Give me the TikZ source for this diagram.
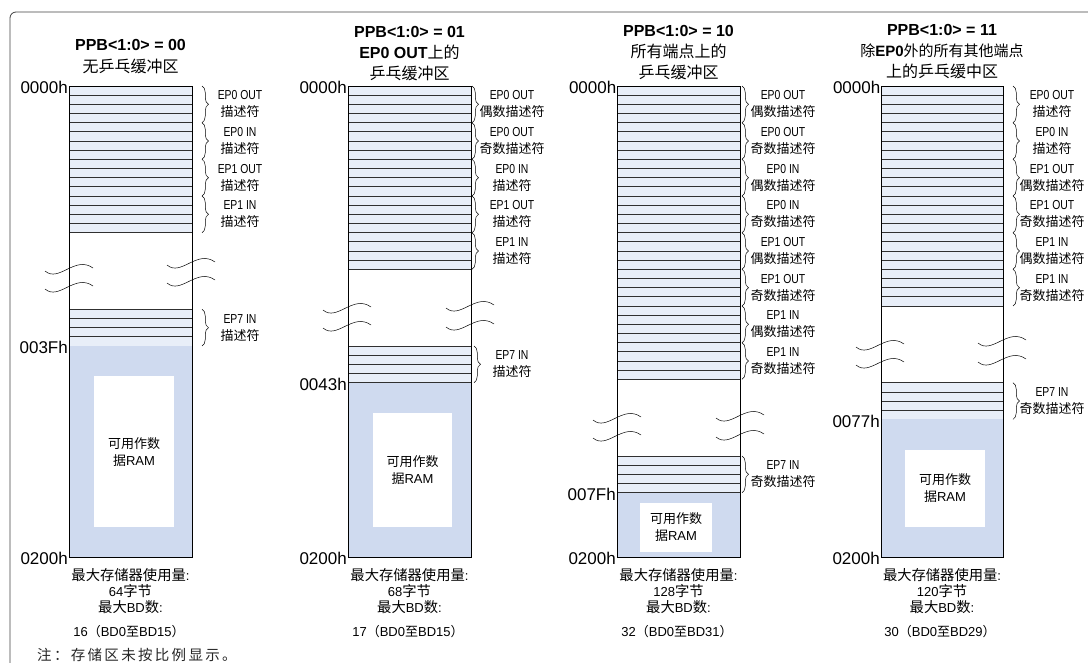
\documentclass[tikz,border=0pt]{standalone}
\usepackage{fontspec}
\setmainfont{Liberation Sans}
\newfontfamily\cjk{Noto Sans CJK SC}
\newfontfamily\cjkb{Noto Sans CJK SC}[Scale=1.1]
\newfontfamily\cjknote{Noto Sans CJK SC}[LetterSpace=16]
\newfontfamily\lnarrow{Liberation Sans}[FakeStretch=0.8]
\usetikzlibrary{decorations.pathreplacing}
\newcommand\zb[1]{{\cjkb #1}}
\newcommand\zhh[1]{{\cjk #1}}
\definecolor{rowc}{HTML}{E8EEF8}
\definecolor{rowl}{HTML}{303030}
\definecolor{ramc}{HTML}{CFDAEF}
\def\rh{9.1667}
\tikzset{
  rowfill/.style={fill=rowc},
  rowline/.style={draw=rowl, line width=0.7pt},
  ramfill/.style={fill=ramc},
  colframe/.style={draw=black, line width=0.8pt},
  brc/.style={draw=black, line width=0.5pt, decorate, decoration={brace, amplitude=6.5pt}},
  lbl/.style={align=center, inner sep=0pt, font=\lnarrow\fontsize{13}{17}\selectfont},
  ramtxt/.style={align=center, inner sep=0pt, font=\fontsize{13}{17}\selectfont},
  addr/.style={anchor=east, inner sep=0pt, font=\fontsize{17}{17}\selectfont},
  hdr/.style={align=center, inner sep=0pt, font=\fontsize{16}{21}\selectfont},
  btm/.style={align=center, inner sep=0pt, font=\fontsize{13}{16}\selectfont},
  btmn/.style={align=center, inner sep=0pt, font=\fontsize{13}{16}\selectfont},
  squigline/.style={draw=black, line width=0.5pt},
  frame/.style={draw=black!75, line width=0.8pt, rounded corners=6pt},
}
% L R nrows S
\newcommand\memcol[4]{%
  \fill[rowfill] (#1,86) rectangle (#2,86+#3*\rh);
  \foreach \k in {1,...,#3} \draw[rowline] (#1,86+\k*\rh) -- (#2,86+\k*\rh);
  \fill[rowfill] (#1,#4) rectangle (#2,#4+4*\rh);
  \foreach \k in {0,...,4} \draw[rowline] (#1,#4+\k*\rh) -- (#2,#4+\k*\rh);
  \fill[ramfill] (#1,#4+4*\rh) rectangle (#2,557);
}
\newcommand\squig[2]{\draw[squigline] (#1,#2) .. controls (#1+14,#2+12) and (#1+30,#2-16) .. (#1+48,#2-3);}
\begin{document}
\begin{tikzpicture}[x=1pt,y=-1pt]
\useasboundingbox (0,0) rectangle (1088,662);
\begin{scope}
  \clip (0,0) rectangle (1088,662);
  \draw[frame] (10,12) rectangle (1150,720);
\end{scope}

% ---------- columns ----------
\memcol{69}{192}{16}{309.3}
\memcol{348}{471}{20}{346}
\memcol{617}{740}{32}{456}
\memcol{881}{1003}{24}{382.7}

% white RAM boxes
\fill[white] (94,376) rectangle (174,527);
\fill[white] (373,413) rectangle (452,527);
\fill[white] (640,503) rectangle (712,552);
\fill[white] (905,450) rectangle (985,527);

% squiggles
\squig{45}{271}\squig{45}{289}\squig{167}{265}\squig{167}{283}
\squig{323}{310}\squig{323}{328}\squig{446}{308}\squig{446}{327}
\squig{593}{420}\squig{593}{438}\squig{716}{418}\squig{716}{437}
\squig{856}{347}\squig{856}{365}\squig{978}{343}\squig{978}{362}

% column outlines
\draw[colframe] (69,86) rectangle (192,557);
\draw[colframe] (348,86) rectangle (471,557);
\draw[colframe] (617,86) rectangle (740,557);
\draw[colframe] (881,86) rectangle (1003,557);

% ---------- braces and labels ----------
\foreach \a/\b [count=\k from 0] in {EP0 OUT/描述符,EP0 IN/描述符,EP1 OUT/描述符,EP1 IN/描述符}{
  \draw[brc] (202,{86+4*\k*\rh}) -- (202,{86+4*(\k+1)*\rh});
  \node[lbl] (a1-\k) at (240,{86+(4*\k+2)*\rh}) {\a\\\zhh{\b}};
}
\draw[brc] (202,309.3) -- (202,309.3+4*\rh);
\node[lbl] (a1-7) at (240,309.3+2*\rh) {EP7 IN\\\zhh{描述符}};

\foreach \a/\b [count=\k from 0] in {EP0 OUT/偶数描述符,EP0 OUT/奇数描述符,EP0 IN/描述符,EP1 OUT/描述符,EP1 IN/描述符}{
  \draw[brc] (472,{86+4*\k*\rh}) -- (472,{86+4*(\k+1)*\rh});
  \node[lbl] (a2-\k) at (512,{86+(4*\k+2)*\rh}) {\a\\\zhh{\b}};
}
\draw[brc] (474,346) -- (474,346+4*\rh);
\node[lbl] (a2-7) at (512,346+2*\rh) {EP7 IN\\\zhh{描述符}};

\foreach \a/\b [count=\k from 0] in {EP0 OUT/偶数描述符,EP0 OUT/奇数描述符,EP0 IN/偶数描述符,EP0 IN/奇数描述符,EP1 OUT/偶数描述符,EP1 OUT/奇数描述符,EP1 IN/偶数描述符,EP1 IN/奇数描述符}{
  \draw[brc] (742,{86+4*\k*\rh}) -- (742,{86+4*(\k+1)*\rh});
  \node[lbl] (a3-\k) at (783,{86+(4*\k+2)*\rh}) {\a\\\zhh{\b}};
}
\draw[brc] (742,456) -- (742,456+4*\rh);
\node[lbl] (a3-9) at (783,456+2*\rh) {EP7 IN\\\zhh{奇数描述符}};

\foreach \a/\b [count=\k from 0] in {EP0 OUT/描述符,EP0 IN/描述符,EP1 OUT/偶数描述符,EP1 OUT/奇数描述符,EP1 IN/偶数描述符,EP1 IN/奇数描述符}{
  \draw[brc] (1013,{86+4*\k*\rh}) -- (1013,{86+4*(\k+1)*\rh});
  \node[lbl] (a4-\k) at (1052,{86+(4*\k+2)*\rh}) {\a\\\zhh{\b}};
}
\draw[brc] (1013,382.7) -- (1013,382.7+4*\rh);
\node[lbl] (a4-7) at (1052,382.7+2*\rh) {EP7 IN\\\zhh{奇数描述符}};

% RAM texts
\node[ramtxt] (ram1) at (134,452) {\zhh{可用作数}\\\zhh{据}RAM};
\node[ramtxt] (ram2) at (412.5,470) {\zhh{可用作数}\\\zhh{据}RAM};
\node[ramtxt] (ram3) at (676,527) {\zhh{可用作数}\\\zhh{据}RAM};
\node[ramtxt] (ram4) at (945,488) {\zhh{可用作数}\\\zhh{据}RAM};

% ---------- addresses ----------
\node[addr] (ad1a) at (68,87.5) {0000h};
\node[addr] (ad1b) at (68,347.5) {003Fh};
\node[addr] (ad1c) at (68,558.5) {0200h};
\node[addr] (ad2a) at (347,87.5) {0000h};
\node[addr] (ad2b) at (347,384) {0043h};
\node[addr] (ad2c) at (347,558.5) {0200h};
\node[addr] (ad3a) at (616.5,87.5) {0000h};
\node[addr] (ad3b) at (616,494.5) {007Fh};
\node[addr] (ad3c) at (616,558.5) {0200h};
\node[addr] (ad4a) at (880.5,87.5) {0000h};
\node[addr] (ad4b) at (880,421) {0077h};
\node[addr] (ad4c) at (880,558.5) {0200h};

% ---------- headers ----------
\node[hdr, font=\fontsize{16}{22}\selectfont] (h1) at (130.5,57) {\textbf{PPB<1:0> = 00}\\\zhh{无乒乓缓冲区}};
\node[hdr] (h2) at (409.5,54) {\textbf{PPB<1:0> = 01}\\\textbf{EP0 OUT}\zhh{上的}\\\zhh{乒乓缓冲区}};
\node[hdr] (h3) at (678.5,53) {\textbf{PPB<1:0> = 10}\\\zhh{所有端点上的}\\\zhh{乒乓缓冲区}};
\node[hdr] (h4) at (942,52) {\textbf{PPB<1:0> = 11}\\{\fontsize{15}{21}\selectfont\zhh{除}\textbf{EP0}\zhh{外的所有其他端点}}\\\zhh{上的乒乓缓中区}};

% ---------- bottom texts ----------
\node[btm] (m1) at (130.5,591) {\zb{最大存储器使用量}:\\64\zb{字节}\\\zb{最大}BD\zb{数}:};
\node[btmn] (n1) at (129,632) {16\zhh{（}BD0\zhh{至}BD15\zhh{）}};
\node[btm] (m2) at (409.5,591) {\zb{最大存储器使用量}:\\68\zb{字节}\\\zb{最大}BD\zb{数}:};
\node[btmn] (n2) at (408,632) {17\zhh{（}BD0\zhh{至}BD15\zhh{）}};
\node[btm] (m3) at (678.5,591) {\zb{最大存储器使用量}:\\128\zb{字节}\\\zb{最大}BD\zb{数}:};
\node[btmn] (n3) at (677,632) {32\zhh{（}BD0\zhh{至}BD31\zhh{）}};
\node[btm] (m4) at (942,591) {\zb{最大存储器使用量}:\\120\zb{字节}\\\zb{最大}BD\zb{数}:};
\node[btmn] (n4) at (940,632) {30\zhh{（}BD0\zhh{至}BD29\zhh{）}};

\node[anchor=west, inner sep=0pt, text=black!85, font=\cjknote\fontsize{14.5}{15}\selectfont] (note) at (37,655) {注：存储区未按比例显示。};
\end{tikzpicture}
\end{document}
